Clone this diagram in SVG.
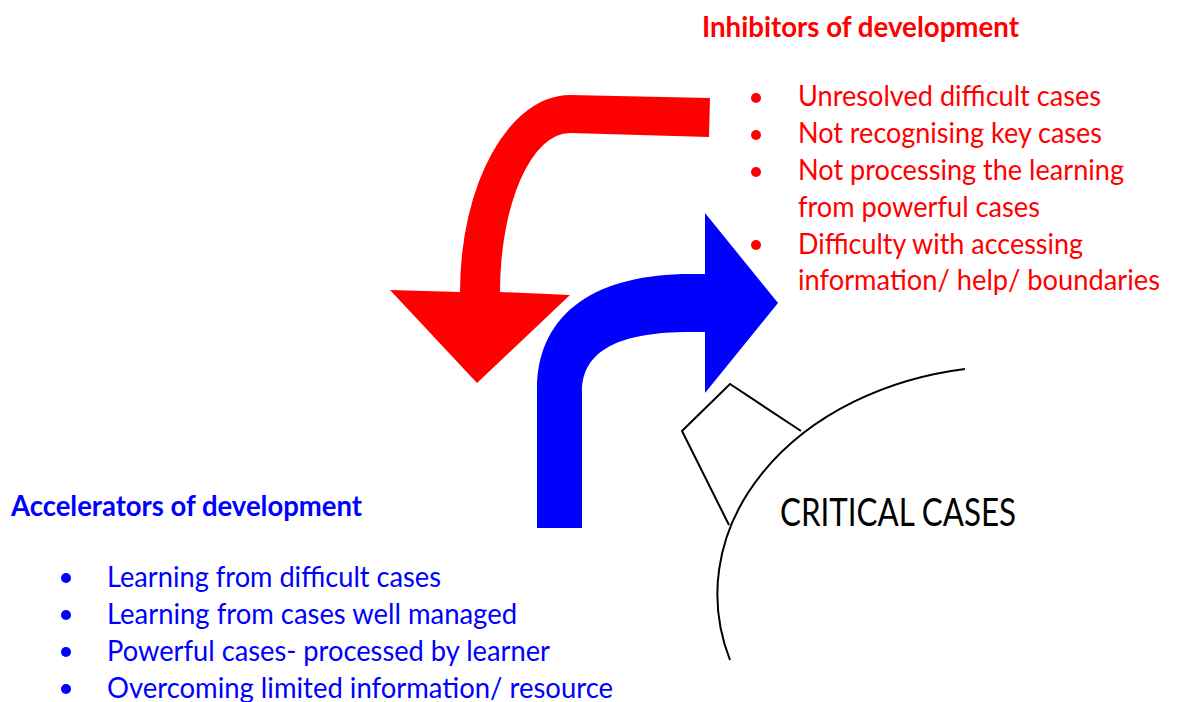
<svg xmlns="http://www.w3.org/2000/svg" width="1178" height="702" viewBox="0 0 1178 702">
<style>
.red{fill:#FF0000}
.blue{fill:#0000FF}
.txt{font-family:Lato,"Open Sans","Liberation Sans",sans-serif;font-size:28px}
.ttl{font-family:Lato,"Open Sans","Liberation Sans",sans-serif;font-size:28px;font-weight:bold}
.cc{font-family:Lato,"Open Sans","Liberation Sans",sans-serif;font-size:38px;fill:#000}
.ln{fill:none;stroke:#000;stroke-width:2;stroke-linejoin:miter}
</style>
<rect width="1178" height="702" fill="#fff"/>
<g id="connectors">
<path id="red-arrow" class="red" d="M 710 98 L 709 137 L 570 133 A 70 159 0 0 0 500 292 L 570 295 L 477 383 L 390 290 L 460 292 A 110 197 0 0 1 570 95 Z"/>
<path id="blue-arrow" class="blue" d="M 537 528 L 537 390 C 537 310 600 274 690 274 L 705 274 L 705 213 L 778 303 L 705 393 L 705 332 L 690 332 C 620 332 582 350 582 392 L 582 528 Z"/>
</g>
<g id="critical-cases">
<path class="ln" d="M 801 431 L 730 384 L 682 431 L 729 525"/>
<path class="ln" d="M 965 369 A 295 228 0 0 0 730 660"/>
<text class="cc" x="780" y="526" textLength="236" lengthAdjust="spacingAndGlyphs">CRITICAL CASES</text>
</g>
<g id="inhibitors">
<text class="ttl red" x="702" y="37" textLength="317" lengthAdjust="spacingAndGlyphs">Inhibitors of development</text>
<g class="red">
<circle cx="756" cy="98" r="5"/>
<circle cx="756" cy="135" r="5"/>
<circle cx="756" cy="172" r="5"/>
<circle cx="756" cy="245" r="5"/>
</g>
<g class="txt red">
<text x="798" y="106" textLength="303" lengthAdjust="spacingAndGlyphs">Unresolved difficult cases</text>
<text x="798" y="143" textLength="304" lengthAdjust="spacingAndGlyphs">Not recognising key cases</text>
<text x="798" y="180" textLength="326" lengthAdjust="spacingAndGlyphs">Not processing the learning</text>
<text x="798" y="217" textLength="242" lengthAdjust="spacingAndGlyphs">from powerful cases</text>
<text x="798" y="254" textLength="285" lengthAdjust="spacingAndGlyphs">Difficulty with accessing</text>
<text x="798" y="290" textLength="362" lengthAdjust="spacingAndGlyphs">information/ help/ boundaries</text>
</g>
</g>
<g id="accelerators">
<text class="ttl blue" x="11" y="516" textLength="351" lengthAdjust="spacingAndGlyphs">Accelerators of development</text>
<g class="blue">
<circle cx="66" cy="578" r="5"/>
<circle cx="66" cy="615" r="5"/>
<circle cx="66" cy="652" r="5"/>
<circle cx="66" cy="689" r="5"/>
</g>
<g class="txt blue">
<text x="107" y="587" textLength="334" lengthAdjust="spacingAndGlyphs">Learning from difficult cases</text>
<text x="107" y="624" textLength="410" lengthAdjust="spacingAndGlyphs">Learning from cases well managed</text>
<text x="107" y="661" textLength="443" lengthAdjust="spacingAndGlyphs">Powerful cases- processed by learner</text>
<text x="107" y="698" textLength="506" lengthAdjust="spacingAndGlyphs">Overcoming limited information/ resource</text>
</g>
</g>
</svg>
